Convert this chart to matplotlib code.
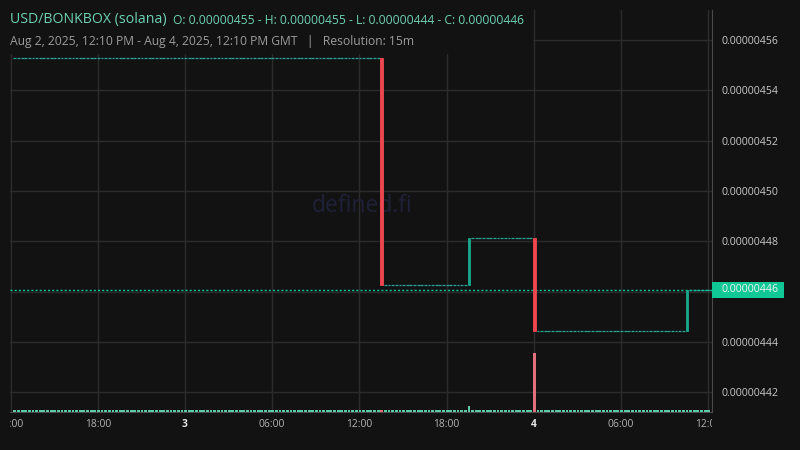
import numpy as np
import pandas as pd
import matplotlib
matplotlib.use("Agg")
import matplotlib.pyplot as plt
import matplotlib.dates as mdates
from matplotlib.patches import Rectangle
from matplotlib.transforms import Bbox, TransformedBbox, blended_transform_factory

plt.rcParams['font.family'] = ['Open Sans', 'DejaVu Sans']

# ---------------- data ----------------
pair_title = "USD/BONKBOX (solana)"
ohlc_text = "O: 0.00000455 - H: 0.00000455 - L: 0.00000444 - C: 0.00000446"
range_text = "Aug 2, 2025, 12:10 PM - Aug 4, 2025, 12:10 PM GMT   |   Resolution: 15m"
watermark = "defined.fi"

session_start = "2025-08-02 12:10"
session_end = "2025-08-04 12:10"
resolution = "15min"
start_price = 4.5528e-6

# candles where the price moved (all other 15m candles are flat, no volume)
move_times = ["2025-08-03 13:25", "2025-08-03 19:25", "2025-08-03 23:55", "2025-08-04 10:25"]
move_open = [4.5528e-6, 4.4627e-6, 4.4815e-6, 4.4443e-6]
move_high = [4.5528e-6, 4.4815e-6, 4.4815e-6, 4.4607e-6]
move_low = [4.4627e-6, 4.4627e-6, 4.4443e-6, 4.4443e-6]
move_close = [4.4627e-6, 4.4815e-6, 4.4443e-6, 4.4607e-6]
move_volume = [40, 130, 1180, 45]

last_price = 4.4607e-6
price_ticks = [4.42e-6, 4.44e-6, 4.46e-6, 4.48e-6, 4.50e-6, 4.52e-6, 4.54e-6, 4.56e-6]
time_ticks = ["2025-08-02 12:00", "2025-08-02 18:00", "2025-08-03 00:00", "2025-08-03 06:00",
              "2025-08-03 12:00", "2025-08-03 18:00", "2025-08-04 00:00", "2025-08-04 06:00",
              "2025-08-04 12:00"]
time_tick_labels = ["12:00", "18:00", "3", "06:00", "12:00", "18:00", "4", "06:00", "12:00"]
bold_labels = ["3", "4"]

# ---------------- build candle series ----------------
times = pd.date_range(session_start, session_end, freq=resolution, inclusive="left")
n = len(times)
o = np.empty(n); h = np.empty(n); l = np.empty(n); c = np.empty(n); v = np.zeros(n)
moves = {pd.Timestamp(t): i for i, t in enumerate(move_times)}
price = start_price
for k, t in enumerate(times):
    if t in moves:
        i = moves[t]
        o[k], h[k], l[k], c[k], v[k] = move_open[i], move_high[i], move_low[i], move_close[i], move_volume[i]
        price = move_close[i]
    else:
        o[k] = h[k] = l[k] = c[k] = price

step = pd.Timedelta(resolution)
centers = mdates.date2num(times + step / 2)
step_days = step / pd.Timedelta(days=1)
body_w = step_days * 0.78

# ---------------- style ----------------
BG = "#121212"
GRID = "#2c2c2c"
UP = "#1aa88c"
DOWN = "#f0464f"
FLAT = "#2aa596"
VOL_UP = "#5ec8a8"
VOL_DOWN = "#e2707b"
LAST = "#10c896"
TXT = "#c8c8c8"

W, H = 800, 450
fig = plt.figure(figsize=(8, 4.5), dpi=100, facecolor=BG)
L, R, T, B = 10, 712, 10, 412
pos = [L / W, 1 - B / H, (R - L) / W, (B - T) / H]
ax = fig.add_axes(pos, facecolor=BG)
ax.set_axisbelow(True)

x0 = mdates.date2num(pd.Timestamp("2025-08-02 11:57:30"))
x1 = mdates.date2num(pd.Timestamp("2025-08-04 12:16"))
ax.set_xlim(x0, x1)
ax.set_ylim(4.4122e-6, 4.5719e-6)

ax.grid(True, color=GRID, lw=1.0)
for s in ["left", "top"]:
    ax.spines[s].set_visible(False)
ax.spines["right"].set_color("#4a4a4a")
ax.spines["bottom"].set_color("#4a4a4a")

ax.yaxis.tick_right()
ax.set_yticks(price_ticks)
# the tick under the last-price tag is covered by the tag in the reference
ax.set_yticklabels(["" if abs(p - last_price) < 0.005e-6 else f"{p:.8f}" for p in price_ticks])
ax.tick_params(axis="y", length=0, pad=7.2, labelsize=7.6, labelcolor=TXT)
ax.set_xticks(mdates.date2num(pd.to_datetime(time_ticks)))
ax.set_xticklabels(time_tick_labels)
ax.tick_params(axis="x", length=0, pad=5, labelsize=7.4, labelcolor="#b4b4b4")
clipbox = TransformedBbox(Bbox([[L / W, 0], [R / W, 1]]), fig.transFigure)
for lab in ax.get_xticklabels():
    lab.set_clip_on(True)
    lab.set_clip_box(clipbox)
    if lab.get_text() in bold_labels:
        lab.set_fontweight("bold")
        lab.set_color("#e6e6e6")

# legend background (hides grid under header)
ax.add_patch(Rectangle((L / W, 1 - 54 / H), (533 - L) / W, (54 - T) / H,
                       transform=fig.transFigure, facecolor=BG, edgecolor="none", zorder=1))

# watermark
ax.text(0.501, 0.512, watermark, transform=ax.transAxes, ha="center", va="center",
        fontsize=16.5, color="#1f2139", zorder=1.5)

# candles
flat = h == l
ax.hlines(c[flat], centers[flat] - body_w / 2, centers[flat] + body_w / 2,
          colors=FLAT, lw=0.9, zorder=3)
mv = ~flat
cols = np.where(c[mv] >= o[mv], UP, DOWN)
ax.bar(centers[mv], c[mv] - o[mv], bottom=o[mv], width=body_w, color=cols,
       edgecolor=cols, lw=0.6, zorder=4)

# last price line
ax.axhline(last_price, color=LAST, lw=1.0, ls=(0, (1.5, 1.5)), zorder=3.5)

# volume
axv = fig.add_axes(pos, facecolor="none")
axv.set_axis_off()
axv.set_xlim(x0, x1)
vmax = max(move_volume) * (B - T) / 59
axv.set_ylim(0, vmax)
vcols = np.where(c >= o, VOL_UP, VOL_DOWN)
min_h = vmax / (B - T) * 1.6
axv.bar(centers, np.maximum(v, min_h), width=body_w, color=vcols, lw=0, zorder=2)

# last price tag
ylo, yhi = ax.get_ylim()
upp = (yhi - ylo) / (B - T)
tr = blended_transform_factory(ax.transAxes, ax.transData)
ax.add_patch(Rectangle((1.0, last_price - 8 * upp), 72 / (R - L), 16 * upp, transform=tr,
                       facecolor=LAST, edgecolor="none", clip_on=False, zorder=5))
ax.text(1.0 + 10 / (R - L), last_price, f"{last_price:.8f}", transform=tr, ha="left",
        va="center", fontsize=7.6, color="#f2f2f2", clip_on=False, zorder=6)

# header texts
fig.text(L / W, 1 - 20 / H, pair_title, fontsize=10.2, color="#6dd2b3", va="center", ha="left", zorder=10)
fig.text(173 / W, 1 - 20 / H, ohlc_text, fontsize=8.7, color="#6dd2b3", va="center", ha="left", zorder=10)
fig.text(L / W, 1 - 41 / H, range_text, fontsize=8.7, color="#9c9c9c", va="center", ha="left", zorder=10)

fig.savefig("out.png", dpi=100, facecolor=BG)
